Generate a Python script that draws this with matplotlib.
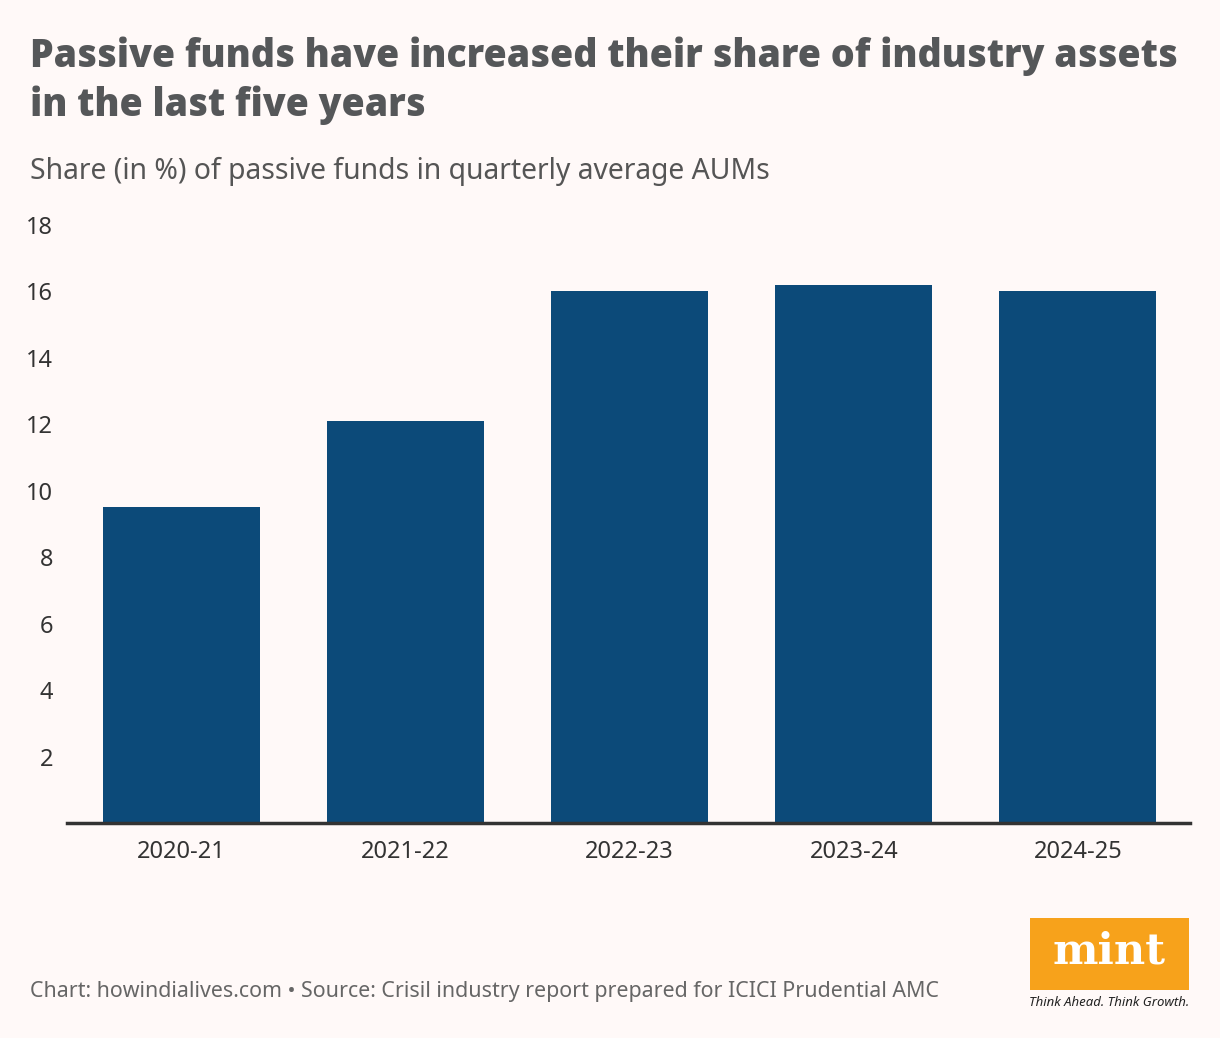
import matplotlib as mpl
import matplotlib.pyplot as plt
from matplotlib.patches import Rectangle

# -------------------------
# Data
# -------------------------

years = ["2020-21", "2021-22", "2022-23", "2023-24", "2024-25"]
share = [9.5, 12.1, 16.0, 16.2, 16.0]
yticks = [2, 4, 6, 8, 10, 12, 14, 16, 18]

# -------------------------
# Style
# -------------------------

BG = "#FFF9F8"
BAR = "#0C4A79"
TEXT = "#333333"
GREY = "#555555"
W, H = 1220, 1038

plt.rcParams["font.family"] = ["Noto Sans", "DejaVu Sans"]

fig = plt.figure(figsize=(12.2, 10.38), dpi=100, facecolor=BG)
ax = fig.add_axes([67 / W, 1 - 823 / H, (1190 - 67) / W, (823 - 225) / H])
ax.set_facecolor(BG)

x = range(len(years))
ax.bar(x, share, width=0.70, color=BAR, zorder=2)

ax.set_xlim(-0.51, 4.5)
ax.set_ylim(0, 18)
ax.set_xticks(list(x))
ax.set_xticklabels(years, fontsize=17, color=TEXT)
ax.set_yticks(yticks)
ax.set_yticklabels([str(t) for t in yticks], fontsize=17, color=TEXT)
ax.tick_params(axis="both", length=0)
ax.tick_params(axis="x", pad=12)
ax.tick_params(axis="y", pad=10)

for s in ["top", "right", "left"]:
    ax.spines[s].set_visible(False)
ax.spines["bottom"].set_color("#333333")
ax.spines["bottom"].set_linewidth(2.5)
ax.spines["bottom"].set_zorder(3)

# -------------------------
# Titles
# -------------------------

title_kw = dict(fontsize=27, fontweight=800, family=["Open Sans", "DejaVu Sans"],
                color="#555759", va="baseline", ha="left")
fig.text(30 / W, 1 - 67 / H,
         "Passive funds have increased their share of industry assets", **title_kw)
fig.text(30 / W, 1 - 116 / H, "in the last five years", **title_kw)

fig.text(30 / W, 1 - 179 / H,
         "Share (in %) of passive funds in quarterly average AUMs",
         fontsize=20.4, color=GREY, va="baseline", ha="left", fontweight="light")

fig.text(30 / W, 1 - 992 / H,
         "Chart: howindialives.com \u2022 Source: Crisil industry report prepared for ICICI Prudential AMC",
         fontsize=15.4, color="#666666", va="center", ha="left")

# -------------------------
# Logo
# -------------------------

fig.patches.append(Rectangle((1030 / W, 1 - 990 / H), 159 / W, 72 / H,
                             transform=fig.transFigure, facecolor="#F7A21B",
                             edgecolor="none"))
fig.text(1109 / W, 1 - 952 / H, "mint", fontsize=31, fontweight="bold",
         family=["DejaVu Serif"], color="white", ha="center", va="center")
fig.text(1109 / W, 1 - 1003 / H, "Think Ahead. Think Growth.", fontsize=9.5,
         style="italic", color="#222222", ha="center", va="center")

fig.savefig("out.png", facecolor=BG)
